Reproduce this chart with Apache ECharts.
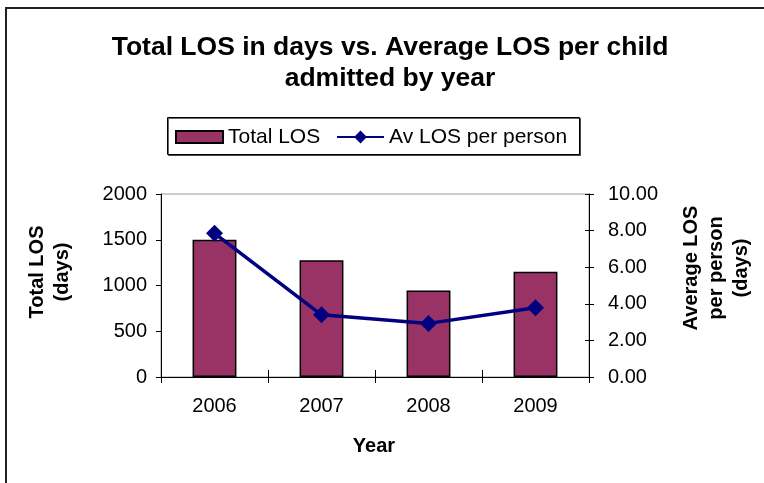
<!DOCTYPE html>
<html>
<head>
<meta charset="utf-8">
<script src="https://cdn.jsdelivr.net/npm/echarts@6/dist/echarts.min.js"></script>
<style>
  html, body { margin: 0; padding: 0; background: #fff; }
  #chart { width: 764px; height: 483px; }
</style>
</head>
<body>
<div id="chart"></div>
<script>
// Length of stay by admission year
const years = ['2006', '2007', '2008', '2009'];
const totalLos = [1500, 1275, 945, 1150];          // total days
const avgLos = [7.85, 3.40, 2.93, 3.78];           // average days per person
const leftTicks = [0, 500, 1000, 1500, 2000];
const rightTicks = [0, 2, 4, 6, 8, 10];

const FONT = '"Liberation Sans", Arial, sans-serif';
const chart = echarts.init(document.getElementById('chart'));

const gridBox = { left: 161, right: 175, top: 194, bottom: 106 };
const legendText = { fontFamily: FONT, fontSize: 21, color: '#000', lineHeight: 22 };

chart.setOption({
  animation: false,
  backgroundColor: '#fff',
  textStyle: { fontFamily: FONT },
  grid: Object.assign({ show: true, borderColor: '#999', borderWidth: 1, backgroundColor: 'transparent' }, gridBox),
  legend: [
    {
      left: 175, top: 126, padding: 0,
      itemWidth: 47, itemHeight: 12,
      textStyle: legendText,
      data: [{ name: 'Total LOS', icon: 'rect' }]
    },
    {
      left: 336, top: 126, padding: 0,
      itemWidth: 47, itemHeight: 16,
      textStyle: legendText,
      data: [{ name: 'Av LOS per person' }]
    }
  ],
  xAxis: [
    {
      type: 'category', data: years, position: 'bottom',
      axisLine: { lineStyle: { color: '#000', width: 1 } },
      axisTick: { show: true, length: 6, lineStyle: { color: '#000' } },
      axisLabel: { color: '#000', fontSize: 20, fontFamily: FONT, margin: 19 }
    },
    {
      // inner half of the crossing category ticks
      type: 'category', data: years, position: 'bottom',
      axisLine: { show: false },
      axisTick: { show: true, inside: true, length: 7, lineStyle: { color: '#000' } },
      axisLabel: { show: false }
    }
  ],
  yAxis: [
    {
      type: 'value', min: leftTicks[0], max: leftTicks[leftTicks.length - 1], interval: 500,
      position: 'left',
      axisLine: { show: true, lineStyle: { color: '#000' } },
      axisTick: { show: true, length: 5, lineStyle: { color: '#000' } },
      axisLabel: { color: '#000', fontSize: 20, fontFamily: FONT, margin: 14,
        formatter: v => String(v) },
      splitLine: { show: false }
    },
    {
      type: 'value', min: rightTicks[0], max: rightTicks[rightTicks.length - 1], interval: 2,
      position: 'right',
      axisLine: { show: true, lineStyle: { color: '#000' } },
      axisTick: { show: true, length: 5, lineStyle: { color: '#000' } },
      axisLabel: { color: '#000', fontSize: 20, fontFamily: FONT, margin: 19,
        formatter: v => v.toFixed(2) },
      splitLine: { show: false }
    },
    {
      // inner half of the crossing ticks on the right axis
      type: 'value', min: rightTicks[0], max: rightTicks[rightTicks.length - 1], interval: 2,
      position: 'right',
      axisLine: { show: false },
      axisTick: { show: true, inside: true, length: 4, lineStyle: { color: '#000' } },
      axisLabel: { show: false },
      splitLine: { show: false }
    }
  ],
  series: [
    {
      name: 'Total LOS', type: 'bar', data: totalLos,
      xAxisIndex: 0, yAxisIndex: 0,
      barWidth: '41%',
      itemStyle: { color: '#993366', borderColor: '#000', borderWidth: 1.5 }
    },
    {
      name: 'Av LOS per person', type: 'line', data: avgLos,
      xAxisIndex: 0, yAxisIndex: 1,
      symbol: 'diamond', symbolSize: 17,
      lineStyle: { color: '#000080', width: 3.5 },
      itemStyle: { color: '#000080' }
    }
  ],
  graphic: [
    {
      type: 'rect', silent: true, z: -1,
      shape: { x: 6, y: 8, width: 800, height: 500 },
      style: { fill: 'none', stroke: '#222', lineWidth: 2 }
    },
    {
      // legend frame
      type: 'rect', silent: true, z: -1,
      shape: { x: 167.5, y: 117.5, width: 412, height: 37 },
      style: { fill: '#fff', stroke: '#000', lineWidth: 1,
        shadowColor: 'rgba(0,0,0,0.6)', shadowOffsetX: 1, shadowOffsetY: 1, shadowBlur: 0 }
    },
    {
      type: 'text', x: 390, y: 32,
      style: {
        text: 'Total LOS in days vs. Average LOS per child\nadmitted by year',
        font: 'bold 26.5px ' + FONT, fill: '#000', align: 'center', lineHeight: 31
      }
    },
    {
      type: 'text', x: 374, y: 446,
      style: { text: 'Year', font: 'bold 20px ' + FONT, fill: '#000', align: 'center', verticalAlign: 'middle' }
    },
    {
      type: 'text', x: 50, y: 272, rotation: Math.PI / 2,
      style: { text: 'Total LOS\n(days)', font: 'bold 20px ' + FONT, fill: '#000',
        align: 'center', verticalAlign: 'middle', lineHeight: 25 }
    },
    {
      type: 'text', x: 716, y: 268, rotation: Math.PI / 2,
      style: { text: 'Average LOS\nper person\n(days)', font: 'bold 20px ' + FONT, fill: '#000',
        align: 'center', verticalAlign: 'middle', lineHeight: 25 }
    }
  ]
});
</script>
</body>
</html>
